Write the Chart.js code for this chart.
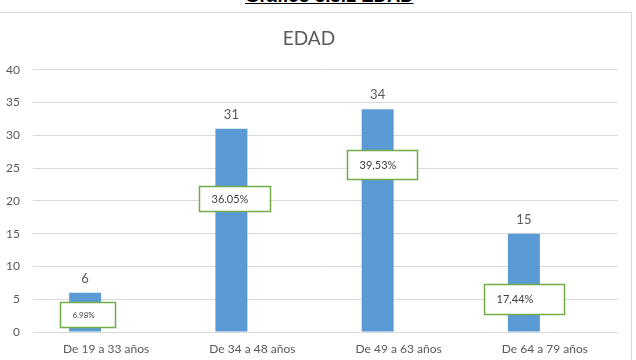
<!DOCTYPE html>
<html>
<head>
<meta charset="utf-8">
<script src="https://cdn.jsdelivr.net/npm/chart.js@4.4.1/dist/chart.umd.min.js"></script>
<style>
  html, body { margin:0; padding:0; background:#fff; }
  body { width:636px; height:360px; position:relative; overflow:hidden; }
  #cabecalho { position:absolute; left:245px; top:-13px; font:bold 18.5px 'Liberation Sans', Arial, sans-serif;
               line-height:18.5px; text-decoration:underline; color:#000; white-space:nowrap; }
  #moldura { position:absolute; left:-5px; top:12px; width:637px; height:360px; border:1px solid #d9d9d9; box-sizing:border-box; }
  #wrap { position:absolute; left:0; top:0; width:636px; height:360px; }
</style>
</head>
<body>
<div id="cabecalho">Gráfico 3.3.1  EDAD</div>
<div id="moldura"></div>
<div id="wrap"><canvas id="grafico-edad"></canvas></div>
<script>
// ----------------------------------------- Dados ----------------------------------------- //
const categorias = ['De 19 a 33 años', 'De 34 a 48 años', 'De 49 a 63 años', 'De 64 a 79 años'];
const totais = [6, 31, 34, 15];
const percentagens = ['6.98%', '36.05%', '39,53%', '17,44%'];
const ticksY = [0, 5, 10, 15, 20, 25, 30, 35, 40];

// caixas das percentagens (posição em valor do eixo y, deslocamento ao centro da barra)
const caixas = [
  { yVal: 2.66, dx: -25, w: 55, h: 25, fonte: 8 },
  { yVal: 20.3, dx: -32, w: 71, h: 25, fonte: 11 },
  { yVal: 25.5, dx: -31, w: 70, h: 29, fonte: 11 },
  { yVal: 5.0,  dx: -40, w: 80, h: 30, fonte: 11 }
];

const FONTE = "Lato, 'Open Sans', sans-serif";

// ----------------------------------------- Plugin: rótulos ----------------------------------------- //
const rotulos = {
  id: 'rotulos',
  afterDatasetsDraw(chart) {
    const ctx = chart.ctx;
    const meta = chart.getDatasetMeta(0);
    const y = chart.scales.y;
    ctx.save();
    meta.data.forEach((bar, i) => {
      // valor por cima da barra
      ctx.font = `13px ${FONTE}`;
      ctx.fillStyle = '#595959';
      ctx.textAlign = 'center';
      ctx.textBaseline = 'middle';
      ctx.fillText(String(totais[i]), bar.x, bar.y - 14);

      // caixa verde com a percentagem
      const c = caixas[i];
      const cy = y.getPixelForValue(c.yVal);
      const left = Math.round(bar.x + c.dx) + 0.5;
      const top = Math.round(cy - c.h / 2) + 0.5;
      ctx.fillStyle = '#ffffff';
      ctx.fillRect(left, top, c.w, c.h);
      ctx.strokeStyle = '#70ad47';
      ctx.lineWidth = 1.5;
      ctx.strokeRect(left, top, c.w, c.h);
      ctx.font = `${c.fonte}px ${FONTE}`;
      ctx.fillStyle = '#404040';
      ctx.textAlign = 'left';
      ctx.fillText(percentagens[i], left + 12, top + c.h / 2);
    });
    ctx.restore();
  }
};

// ----------------------------------------- Gráfico ----------------------------------------- //
new Chart(document.getElementById('grafico-edad'), {
  type: 'bar',
  data: {
    labels: categorias,
    datasets: [
      { data: totais, backgroundColor: '#5b9bd5', categoryPercentage: 0.574, barPercentage: 0.762 },
      { data: categorias.map(() => null), backgroundColor: 'rgba(0,0,0,0)', categoryPercentage: 0.574, barPercentage: 0.762 }
    ]
  },
  options: {
    responsive: true,
    maintainAspectRatio: false,
    animation: false,
    layout: { padding: { left: 0, right: 18, top: 0, bottom: 0 } },
    plugins: {
      legend: { display: false },
      tooltip: { enabled: false },
      title: {
        display: true,
        text: 'EDAD',
        color: '#595959',
        font: { family: FONTE, size: 19, weight: 'normal' },
        padding: { top: 27, bottom: 20 }
      }
    },
    scales: {
      x: {
        afterFit: ax => { ax.height = 28; },
        grid: { display: false, drawTicks: false },
        border: { display: false },
        ticks: { color: '#595959', font: { family: FONTE, size: 12 }, padding: 10, maxRotation: 0 }
      },
      y: {
        min: 0, max: 40,
        afterBuildTicks: ax => { ax.ticks = ticksY.map(v => ({ value: v })); },
        afterFit: ax => { ax.width = 33; },
        grid: { color: '#d9d9d9', drawTicks: false },
        border: { display: false },
        ticks: { color: '#595959', font: { family: FONTE, size: 12 }, padding: 13 }
      }
    }
  },
  plugins: [rotulos]
});
</script>
</body>
</html>
